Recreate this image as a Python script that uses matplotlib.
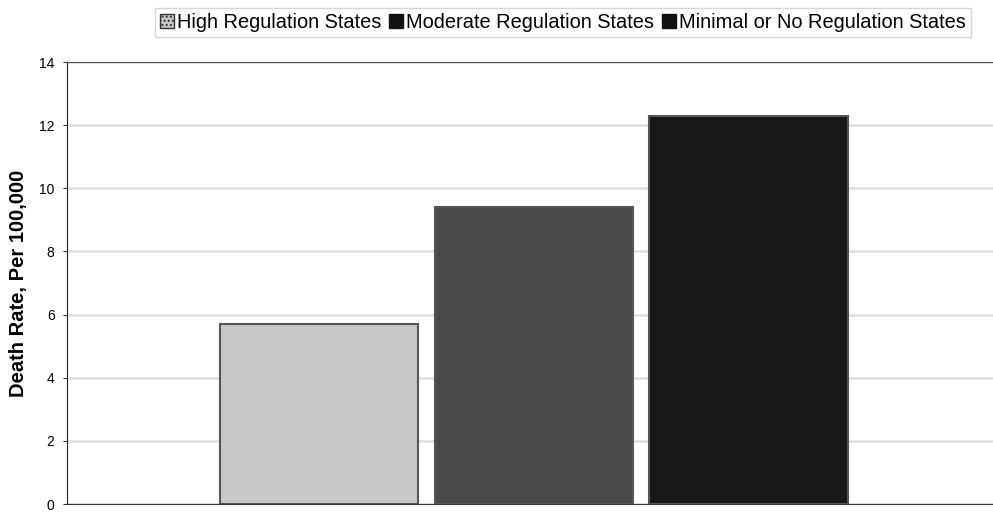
import numpy as np
import matplotlib
matplotlib.use("Agg")
import matplotlib.pyplot as plt
from matplotlib.patches import Patch

plt.rcParams['font.family'] = ['Liberation Sans', 'DejaVu Sans']

# death rate per 100,000 by state regulation level
groups = ['High Regulation States', 'Moderate Regulation States', 'Minimal or No Regulation States']
rates = [5.7, 9.4, 12.3]
colors = ['#c9c9c9', '#4a4a4a', '#181818']
y_ticks = [0, 2, 4, 6, 8, 10, 12, 14]

fig = plt.figure(figsize=(9.93, 5.12), dpi=100)
ax = fig.add_axes([0.0675, 0.0156, 0.9325, 0.8633])

width = 0.214
step = 0.232
for i, (g, r, c) in enumerate(zip(groups, rates, colors)):
    x = (i - 1) * step + 0.004
    ax.bar(x, r, width=width, color=c, edgecolor='#555555', linewidth=1.5,
           label=g, zorder=3)

ax.set_xlim(-0.5, 0.5)
ax.set_ylim(0, 14)
ax.set_yticks(y_ticks)
ax.set_xticks([])
ax.tick_params(axis='y', labelsize=10, length=3, width=0.8, color='#333333', pad=6)
ax.yaxis.grid(True, color='#dedede', linewidth=1.8, zorder=0)

ax.spines['right'].set_visible(False)
ax.spines['top'].set_linestyle((0, (2, 1)))
ax.spines['top'].set_color('#555555')
ax.spines['top'].set_linewidth(0.8)
ax.spines['left'].set_color('#222222')
ax.spines['bottom'].set_color('#333333')
ax.spines['bottom'].set_linestyle((0, (3, 1)))

ax.set_ylabel('Death Rate, Per 100,000', fontsize=14.5, fontweight='bold', labelpad=8)

handles = [Patch(facecolor='#c9c9c9', edgecolor='#333333', hatch='....', label=groups[0]),
           Patch(facecolor='#111111', edgecolor='#111111', label=groups[1]),
           Patch(facecolor='#111111', edgecolor='#111111', label=groups[2])]
leg = fig.legend(handles=handles, loc='center', bbox_to_anchor=(0.567, 0.957), ncol=3,
                 fontsize=14.4, handlelength=0.7, handleheight=0.7, handletextpad=0.15,
                 columnspacing=0.4, borderpad=0.25, fancybox=False, frameon=True)
leg.get_frame().set_edgecolor('#cccccc')
leg.get_frame().set_linewidth(1.0)

fig.savefig('out.png', dpi=100)
